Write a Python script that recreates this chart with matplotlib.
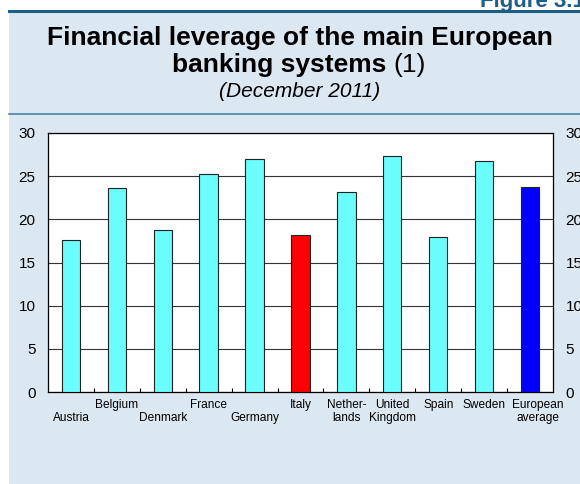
import matplotlib
matplotlib.use("Agg")
import matplotlib.pyplot as plt
import numpy as np
from matplotlib.patches import Rectangle
from matplotlib.lines import Line2D
from matplotlib.transforms import ScaledTranslation

plt.rcParams['font.family'] = ['Liberation Sans', 'DejaVu Sans']

countries = ["Austria", "Belgium", "Denmark", "France", "Germany", "Italy",
             "Nether-\nlands", "United\nKingdom", "Spain", "Sweden", "European\naverage"]
# which labels go on the lower row (single-line ones only)
lower_row = [True, False, True, False, True, False, False, False, False, False, False]
leverage = [17.6, 23.6, 18.8, 25.3, 27.0, 18.2, 23.2, 27.3, 18.0, 26.7, 23.7]
bar_colors = ["#6bfcfc"] * 5 + ["#ff0000"] + ["#6bfcfc"] * 4 + ["#0000ff"]

W, H = 580, 484
fig = plt.figure(figsize=(W / 100, H / 100), dpi=100)
fig.patch.set_facecolor("white")


def fx(px):
    return px / W


def fy(py):
    return 1 - py / H


# background panel and rules
fig.patches.append(Rectangle((fx(9), 0), 1 - fx(9), fy(11), transform=fig.transFigure,
                             facecolor="#dce8f1", edgecolor="none", zorder=-5))
fig.lines.append(Line2D([fx(9), 1], [fy(11), fy(11)], transform=fig.transFigure,
                        color="#1d5f86", linewidth=2.2, zorder=-4))
fig.lines.append(Line2D([fx(9), 1], [fy(113.5), fy(113.5)], transform=fig.transFigure,
                        color="#4a84a6", linewidth=1.2, zorder=-4))

fig.text(fx(480), fy(7), "Figure 3.1", color="#1d5f86", fontsize=16, fontweight="bold",
         ha="left", va="baseline")

fig.text(fx(300), fy(45), "Financial leverage of the main European", fontsize=19,
         fontweight="bold", ha="center", va="baseline")
fig.text(fx(386), fy(72), "banking systems", fontsize=19, fontweight="bold",
         ha="right", va="baseline")
fig.text(fx(393), fy(72), "(1)", fontsize=19, ha="left", va="baseline")
fig.text(fx(300), fy(97), "(December 2011)", fontsize=15, style="italic",
         ha="center", va="baseline")

ax = fig.add_axes([fx(48), fy(392), fx(553) - fx(48), fy(133) - fy(392)])
ax.set_facecolor("white")
x = np.arange(len(countries))
ax.bar(x, leverage, width=0.4, color=bar_colors, edgecolor="#222222", linewidth=0.8, zorder=3)

ax.set_xlim(-0.5, len(countries) - 0.5)
ax.set_ylim(0, 30)
ax.set_yticks(range(0, 31, 5))
ax.yaxis.grid(True, color="#333333", linewidth=0.8, zorder=1)
ax.set_axisbelow(True)

labels = [("\n" + c) if low else c for c, low in zip(countries, lower_row)]
ax.set_xticks(x)
ax.set_xticklabels(labels, fontsize=8.6, linespacing=1.1)
ax.set_xticks(np.arange(0.5, len(countries) - 0.5, 1), minor=True)
ax.tick_params(axis="x", which="major", length=0, pad=5)
ax.tick_params(axis="x", which="minor", direction="in", length=3, width=0.8)
ax.tick_params(axis="y", length=0, labelsize=11, pad=9, labelright=True)
for s in ax.spines.values():
    s.set_linewidth(0.9)
    s.set_color("black")

# the last label sits a bit to the right of its bar, as in the original
last = ax.get_xticklabels()[-1]
last.set_transform(last.get_transform() + ScaledTranslation(0.08, 0, fig.dpi_scale_trans))

fig.savefig("out.png", dpi=100)
